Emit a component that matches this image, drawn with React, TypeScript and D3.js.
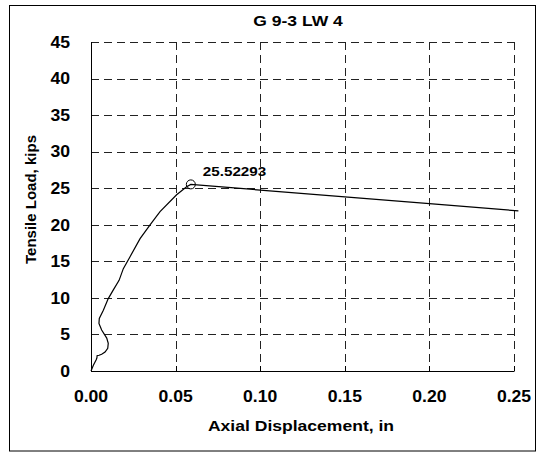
import React from "react";
import * as d3 from "d3";

const titleText = "G 9-3 LW 4";
const xAxisTitle = "Axial Displacement, in";
const yAxisTitle = "Tensile Load, kips";

const displacement = [
  0, 0.0014, 0.003, 0.0035, 0.0036, 0.0048, 0.0063, 0.0083, 0.0099, 0.0102,
  0.0093, 0.0063, 0.0047, 0.0049, 0.0073, 0.0102, 0.0132, 0.0166, 0.0191,
  0.023, 0.029, 0.0349, 0.0408, 0.0506, 0.0565, 0.059, 0.1, 0.15, 0.2, 0.2526,
];
const load = [
  0, 0.8, 1.5, 1.8, 2.1, 2.15, 2.3, 2.6, 3.1, 3.8, 4.5, 5.6, 6.5, 7.2, 8.3,
  9.9, 11.1, 12.4, 14.0, 15.6, 18.1, 20.0, 21.8, 24.1, 25.2, 25.52293, 24.75,
  23.82, 22.88, 21.9,
];

const peakDisp = 0.059;
const peakLoad = 25.52293;
const peakLabel = "25.52293";

const xTicks = [0, 0.05, 0.1, 0.15, 0.2, 0.25];
const xTickLabels = ["0.00", "0.05", "0.10", "0.15", "0.20", "0.25"];
const yTicks = [0, 5, 10, 15, 20, 25, 30, 35, 40, 45];

const W = 538;
const H = 453;
const left = 91;
const right = 514;
const top = 42;
const bottom = 371;
const FONT = "'Liberation Sans', Arial, Helvetica, sans-serif";

export default function App() {
  const x = d3.scaleLinear().domain([0, 0.25]).range([left, right]);
  const y = d3.scaleLinear().domain([0, 45]).range([bottom, top]);
  const pts: [number, number][] = displacement.map((d, i) => [d, load[i]]);
  const line = d3
    .line<[number, number]>()
    .x((d) => x(d[0]))
    .y((d) => y(d[1]))
    .curve(d3.curveLinear);

  const sx = 1.17;
  const tsx = 1.1;

  return (
    <svg
      width={W}
      height={H}
      style={{ position: "absolute", left: 0, top: 0, background: "#fff" }}
      fontFamily={FONT}
      fontWeight="bold"
    >
      <rect x={0} y={0} width={W} height={H} fill="#fff" />
      <rect x={9.5} y={5.5} width={526} height={445.5} fill="none" stroke="#000" strokeWidth={1} />

      {/* grid */}
      {yTicks.filter((t) => t > 0).map((t) => (
        <line
          key={"gy" + t}
          x1={left}
          x2={right}
          y1={Math.round(y(t)) + 0.5}
          y2={Math.round(y(t)) + 0.5}
          stroke="#222"
          strokeWidth={1}
          strokeDasharray="8,5"
        />
      ))}
      {xTicks.filter((t) => t > 0).map((t) => (
        <line
          key={"gx" + t}
          x1={Math.round(x(t)) + 0.5}
          x2={Math.round(x(t)) + 0.5}
          y1={top}
          y2={bottom}
          stroke="#222"
          strokeWidth={1}
          strokeDasharray="8,5"
        />
      ))}
      {xTicks.filter((t) => t > 0).map((t) => (
        <line
          key={"tx" + t}
          x1={Math.round(x(t)) + 0.5}
          x2={Math.round(x(t)) + 0.5}
          y1={bottom - 5}
          y2={bottom}
          stroke="#000"
          strokeWidth={1}
        />
      ))}

      {/* axes */}
      <line x1={left + 0.5} x2={left + 0.5} y1={top} y2={bottom + 0.5} stroke="#000" strokeWidth={1} />
      <line x1={left} x2={right + 0.5} y1={bottom + 0.5} y2={bottom + 0.5} stroke="#000" strokeWidth={1} />

      {/* tick labels */}
      {yTicks.map((t) => (
        <text
          key={"ly" + t}
          transform={`translate(70,${y(t) + 5.8}) scale(${tsx},1)`}
          textAnchor="end"
          fontSize={16}
          fill="#000"
        >
          {t}
        </text>
      ))}
      {xTicks.map((t, i) => (
        <text
          key={"lx" + t}
          transform={`translate(${x(t)},${bottom + 31}) scale(${tsx},1)`}
          textAnchor="middle"
          fontSize={16}
          fill="#000"
        >
          {xTickLabels[i]}
        </text>
      ))}

      {/* titles */}
      <text
        transform={`translate(298,26) scale(${sx},1)`}
        textAnchor="middle"
        fontSize={15}
        fill="#000"
      >
        {titleText}
      </text>
      <text
        transform={`translate(301,431) scale(${sx},1)`}
        textAnchor="middle"
        fontSize={15}
        fill="#000"
      >
        {xAxisTitle}
      </text>
      <text
        transform={`translate(35.5,199.5) rotate(-90)`}
        textAnchor="middle"
        fontSize={15}
        fill="#000"
      >
        {yAxisTitle}
      </text>

      {/* data */}
      <path d={line(pts) || ""} fill="none" stroke="#000" strokeWidth={1.2} />
      <circle cx={x(peakDisp)} cy={y(peakLoad)} r={4.5} fill="none" stroke="#000" strokeWidth={1} />
      <text
        transform={`translate(${x(peakDisp) + 12},${y(peakLoad) - 8}) scale(${sx},1)`}
        fontSize={13}
        fill="#000"
      >
        {peakLabel}
      </text>
    </svg>
  );
}
